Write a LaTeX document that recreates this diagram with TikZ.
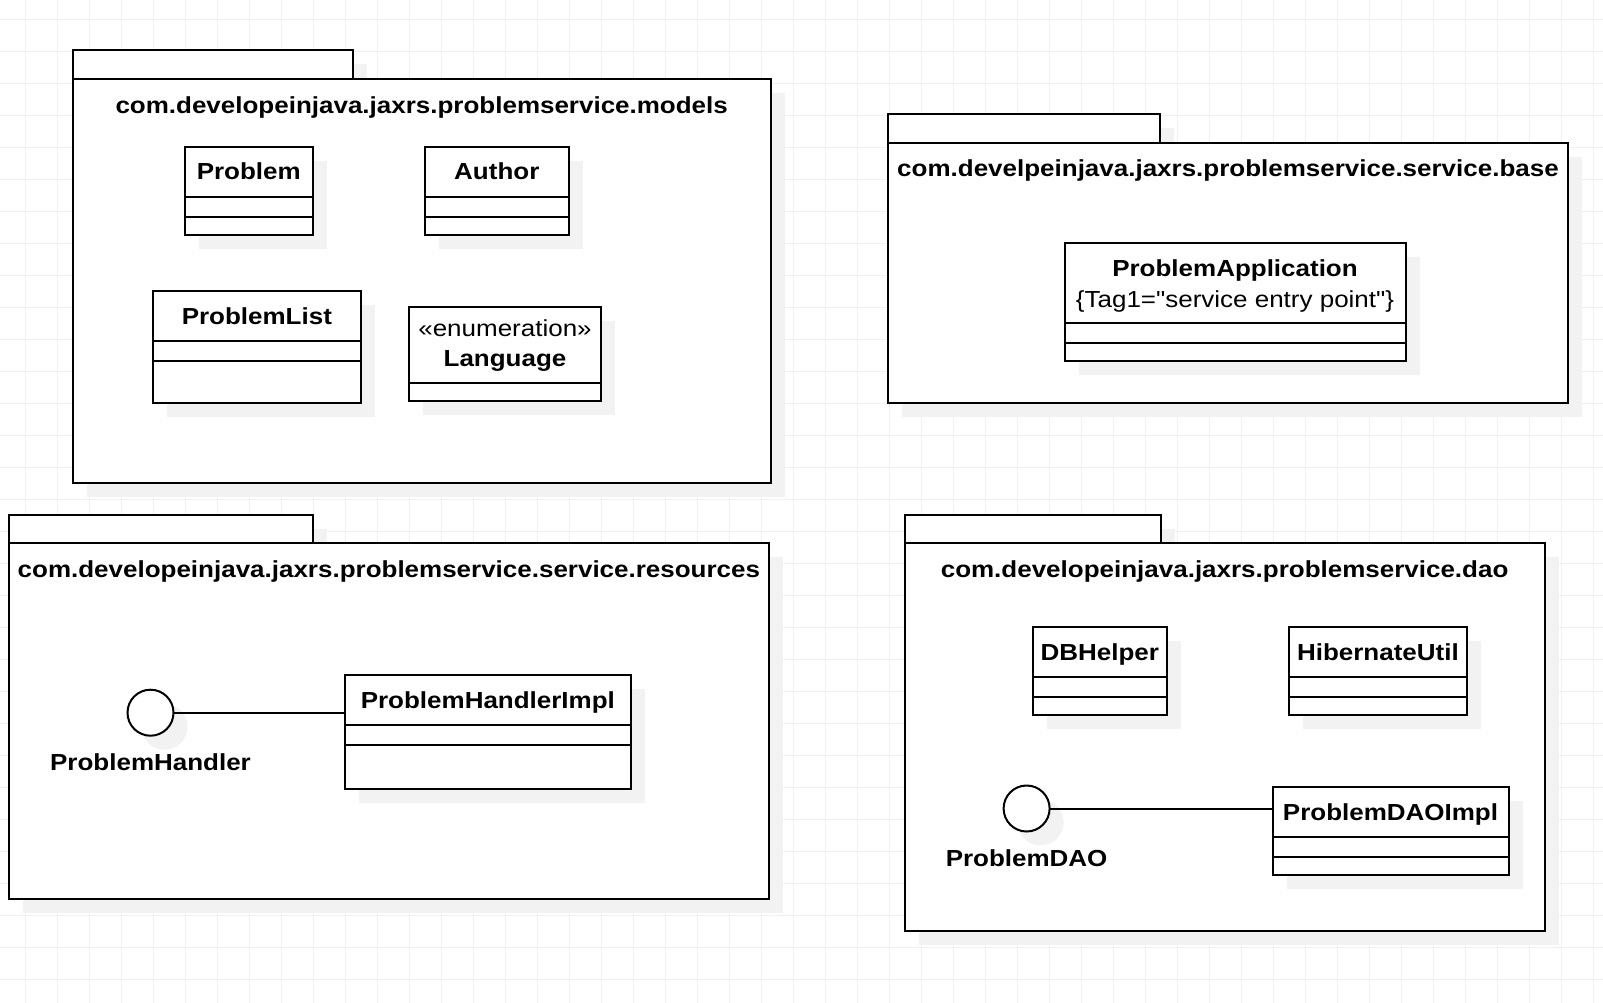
\documentclass[tikz,border=0pt]{standalone}
\usepackage{fontspec}
\setmainfont[FakeStretch=1.12]{Liberation Sans}
\newfontfamily\tagfont[FakeStretch=1.12, Ligatures=TeXOff]{Liberation Sans}
\definecolor{shadowc}{RGB}{242,242,242}
\definecolor{gridc}{RGB}{240,240,240}
\newcommand\pkgshape[7]{% id, x1, tab top, tab right, body top, x2, y2
  \fill[shadowc] (#2+14,#3+14) rectangle (#4+14,#5+14);
  \fill[shadowc] (#2+14,#5+14) rectangle (#6+14,#7+14);
  \draw[ln, fill=white] (#2,#3) rectangle (#4,#5);
  \node[boxsh, minimum width={#6-#2}, minimum height={#7-#5}, anchor=north west] (#1) at (#2,#5) {};
}
\newcommand\clsshape[5]{% id, x1, y1, x2, y2
  \fill[shadowc] (#2+14,#3+14) rectangle (#4+14,#5+14);
  \node[boxsh, minimum width={#4-#2}, minimum height={#5-#3}, anchor=north west] (#1) at (#2,#3) {};
}
\newcommand\divline[3]{\draw[ln] (#1,#3) -- (#2,#3);}
\begin{document}
\begin{tikzpicture}[x=1pt,y=-1pt,
  ln/.style={line width=2pt, draw=black},
  boxsh/.style={rectangle, draw=black, line width=2pt, fill=white, inner sep=0pt, outer sep=0pt},
  ifc/.style={circle, draw=black, line width=2pt, fill=white, minimum size=46pt, inner sep=0pt, outer sep=0pt},
  bt/.style={font=\fontsize{23.2}{27}\selectfont\bfseries, inner sep=0pt, anchor=base},
  rt/.style={font=\fontsize{23.2}{27}\selectfont, inner sep=0pt, anchor=base}]
% background and grid
\fill[white] (0,0) rectangle (1603,1003);
\useasboundingbox (0,0) rectangle (1603,1003);
\foreach \k in {0,...,49} {\draw[gridc, line width=1pt] (25.7+32*\k,0) -- (25.7+32*\k,1003);}
\foreach \k in {0,...,30} {\draw[gridc, line width=1pt] (0,19.3+32*\k) -- (1603,19.3+32*\k);}

% packages
\pkgshape{models}{72.6}{50.5}{352.5}{79}{770.8}{482.6}
\pkgshape{base}{888.3}{114.3}{1160}{142.8}{1567.8}{402.8}
\pkgshape{resources}{9}{515}{312.8}{542.8}{768.8}{898.5}
\pkgshape{dao}{904.6}{515}{1161.2}{542.8}{1544.7}{930.5}

\node[bt] (tmodels) at (421.7,113.3) {com.developeinjava.jaxrs.problemservice.models};
\node[bt] (tbase) at (1228,177) {com.develpeinjava.jaxrs.problemservice.service.base};
\node[bt] (tres) at (388.9,577) {com.developeinjava.jaxrs.problemservice.service.resources};
\node[bt] (tdao) at (1224.6,577) {com.developeinjava.jaxrs.problemservice.dao};

% models classes
\clsshape{problem}{184.7}{146.8}{312.8}{234.6}
\divline{184.7}{312.8}{196.7}\divline{184.7}{312.8}{216.7}
\node[bt] (tproblem) at (248.75,180) {Problem};

\clsshape{author}{425}{146.8}{568.6}{234.6}
\divline{425}{568.6}{196.7}\divline{425}{568.6}{216.7}
\node[bt] (tauthor) at (496.8,180) {Author};

\clsshape{plist}{152.7}{290.7}{361}{403}
\divline{152.7}{361}{340.7}\divline{152.7}{361}{360.7}
\node[bt] (tplist) at (256.85,324) {ProblemList};

\clsshape{lang}{409}{306.7}{601}{400.7}
\divline{409}{601}{382.7}
\node[rt] (tenum) at (505,336) {«enumeration»};
\node[bt] (tlang) at (505,366.5) {Language};

% base class
\clsshape{papp}{1064.5}{243}{1405.5}{361}
\divline{1064.5}{1405.5}{322.7}\divline{1064.5}{1405.5}{343}
\node[bt] (tpapp) at (1235,276) {ProblemApplication};
\node[rt] (ttag) at (1235,307.7) {\tagfont\{Tag1="service entry point"\}};

% resources
\clsshape{phi}{344.7}{674.5}{631}{788.5}
\divline{344.7}{631}{725}\divline{344.7}{631}{745}
\node[bt] (tphi) at (487.85,708) {ProblemHandlerImpl};
\fill[shadowc] (164.5,726.7) circle (23);
\node[ifc] (ph) at (150.5,712.7) {};
\node[bt] (tph) at (150.5,770.5) {ProblemHandler};
\draw[ln] (ph.east) -- (ph.east -| phi.west);

% dao
\clsshape{dbh}{1032.6}{626.7}{1167}{714.5}
\divline{1032.6}{1167}{676.7}\divline{1032.6}{1167}{696.7}
\node[bt] (tdbh) at (1099.8,660) {DBHelper};

\clsshape{hib}{1288.8}{626.7}{1467}{714.5}
\divline{1288.8}{1467}{676.7}\divline{1288.8}{1467}{696.7}
\node[bt] (thib) at (1377.9,660) {HibernateUtil};

\clsshape{pdi}{1272.5}{787}{1508.6}{874.8}
\divline{1272.5}{1508.6}{836.7}\divline{1272.5}{1508.6}{856.7}
\node[bt] (tpdi) at (1390.5,820) {ProblemDAOImpl};
\fill[shadowc] (1040.6,822.5) circle (23);
\node[ifc] (pd) at (1026.6,808.5) {};
\node[bt] (tpd) at (1026.6,866.5) {ProblemDAO};
\draw[ln] (pd.east) -- (pd.east -| pdi.west);
\end{tikzpicture}
\end{document}
